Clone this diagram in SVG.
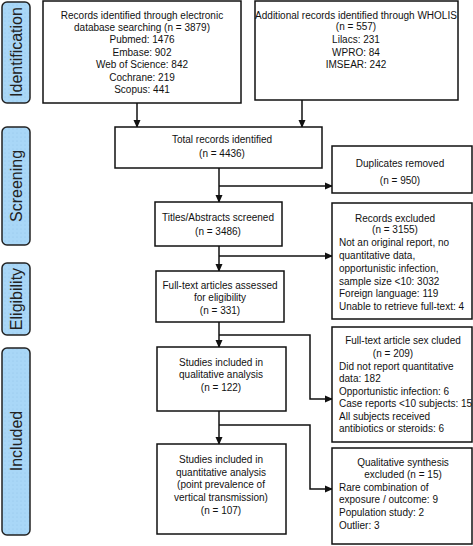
<svg xmlns="http://www.w3.org/2000/svg" width="473" height="546" viewBox="0 0 473 546">
<defs>
<marker id="ah" markerWidth="8" markerHeight="8" refX="7" refY="4" orient="auto" markerUnits="userSpaceOnUse">
<path d="M0,0.5 L8,4 L0,7.5 Z" fill="#111"/>
</marker>
<pattern id="dots" width="4" height="4" patternUnits="userSpaceOnUse">
<rect width="4" height="4" fill="#a9d7f7"/>
<circle cx="1" cy="1" r="0.5" fill="#8fc0e6"/>
</pattern>
</defs>
<style>
.box{fill:#fff;stroke:#111;stroke-width:1.5}
.side{fill:url(#dots);stroke:#222;stroke-width:1.5}
.t{font-family:"Liberation Sans",Arial,sans-serif;font-size:10px;fill:#111}
.c{text-anchor:middle}
.s{font-family:"Liberation Sans",Arial,sans-serif;font-size:16px;fill:#222;text-anchor:middle}
.ln{fill:none;stroke:#111;stroke-width:1.5}
</style>
<rect width="473" height="546" fill="#fff"/>

<g id="phases">
<g id="phase-identification"><rect class="side" x="2" y="2" width="28" height="101" rx="5"/><text class="s" transform="translate(22,52) rotate(-90)">Identification</text></g>
<g id="phase-screening"><rect class="side" x="2" y="127" width="28" height="118" rx="5"/><text class="s" transform="translate(22,186) rotate(-90)">Screening</text></g>
<g id="phase-eligibility"><rect class="side" x="2" y="263" width="28" height="72" rx="5"/><text class="s" transform="translate(22,299) rotate(-90)">Eligibility</text></g>
<g id="phase-included"><rect class="side" x="2" y="348" width="28" height="187" rx="5"/><text class="s" transform="translate(22,441) rotate(-90)">Included</text></g>
</g>

<g id="connectors">
<line class="ln" x1="137" y1="103" x2="137" y2="127" marker-end="url(#ah)"/>
<line class="ln" x1="302" y1="100" x2="302" y2="127" marker-end="url(#ah)"/>
<line class="ln" x1="219" y1="168" x2="219" y2="202" marker-end="url(#ah)"/>
<line class="ln" x1="219" y1="186" x2="332" y2="186" marker-end="url(#ah)"/>
<line class="ln" x1="219" y1="246" x2="219" y2="271" marker-end="url(#ah)"/>
<line class="ln" x1="219" y1="256" x2="332" y2="256" marker-end="url(#ah)"/>
<line class="ln" x1="219" y1="322" x2="219" y2="347" marker-end="url(#ah)"/>
<polyline class="ln" points="219,335 310,335 310,399 332,399" marker-end="url(#ah)"/>
<line class="ln" x1="219" y1="411" x2="219" y2="444" marker-end="url(#ah)"/>
<polyline class="ln" points="219,425 310,425 310,489 332,489" marker-end="url(#ah)"/>
</g>

<g id="n-electronic">
<rect class="box" x="43" y="1" width="198" height="102"/>
<text class="t c" x="142" y="19">Records identified through electronic</text>
<text class="t c" x="142" y="31">database searching (n = 3879)</text>
<text class="t c" x="142" y="43">Pubmed: 1476</text>
<text class="t c" x="142" y="56">Embase: 902</text>
<text class="t c" x="142" y="68">Web of Science: 842</text>
<text class="t c" x="142" y="81">Cochrane: 219</text>
<text class="t c" x="142" y="93">Scopus: 441</text>
</g>

<g id="n-wholis">
<rect class="box" x="255" y="1" width="203" height="99"/>
<text class="t c" x="356" y="19">Additional records identified through WHOLIS</text>
<text class="t c" x="356" y="30">(n = 557)</text>
<text class="t c" x="356" y="43">Lilacs: 231</text>
<text class="t c" x="356" y="56">WPRO: 84</text>
<text class="t c" x="356" y="68">IMSEAR: 242</text>
</g>

<g id="n-total">
<rect class="box" x="115" y="127" width="207" height="41"/>
<text class="t c" x="222" y="143">Total records identified</text>
<text class="t c" x="222" y="157">(n = 4436)</text>
</g>

<g id="n-duplicates">
<rect class="box" x="332" y="146" width="140" height="47"/>
<text class="t c" x="400" y="167">Duplicates removed</text>
<text class="t c" x="400" y="184">(n = 950)</text>
</g>

<g id="n-titles">
<rect class="box" x="155" y="202" width="127" height="44"/>
<text class="t c" x="218" y="221">Titles/Abstracts screened</text>
<text class="t c" x="218" y="235">(n = 3486)</text>
</g>

<g id="n-records-excluded">
<rect class="box" x="332" y="203" width="140" height="116"/>
<text class="t c" x="395" y="222">Records excluded</text>
<text class="t c" x="395" y="233">(n = 3155)</text>
<text class="t" x="339" y="246">Not an original report, no</text>
<text class="t" x="339" y="259">quantitative data,</text>
<text class="t" x="339" y="272">opportunistic infection,</text>
<text class="t" x="339" y="285">sample size &lt;10: 3032</text>
<text class="t" x="339" y="297">Foreign language: 119</text>
<text class="t" x="339" y="310">Unable to retrieve full-text: 4</text>
</g>

<g id="n-fulltext">
<rect class="box" x="156" y="271" width="128" height="51"/>
<text class="t c" x="220" y="289">Full-text articles assessed</text>
<text class="t c" x="220" y="301">for eligibility</text>
<text class="t c" x="220" y="314">(n = 331)</text>
</g>

<g id="n-fulltext-excluded">
<rect class="box" x="332" y="327" width="140" height="115"/>
<text class="t c" x="403" y="344">Full-text article sex cluded</text>
<text class="t c" x="393" y="357">(n = 209)</text>
<text class="t" x="339" y="370">Did not report quantitative</text>
<text class="t" x="339" y="382">data: 182</text>
<text class="t" x="339" y="395">Opportunistic infection: 6</text>
<text class="t" x="339" y="407">Case reports &lt;10 subjects: 15</text>
<text class="t" x="339" y="420">All subjects received</text>
<text class="t" x="339" y="432">antibiotics or steroids: 6</text>
</g>

<g id="n-qualitative">
<rect class="box" x="157" y="347" width="129" height="64"/>
<text class="t c" x="221" y="366">Studies included in</text>
<text class="t c" x="221" y="378">qualitative analysis</text>
<text class="t c" x="221" y="391">(n = 122)</text>
</g>

<g id="n-quantitative">
<rect class="box" x="157" y="444" width="129" height="90"/>
<text class="t c" x="221" y="463">Studies included in</text>
<text class="t c" x="221" y="476">quantitative analysis</text>
<text class="t c" x="221" y="488">(point prevalence of</text>
<text class="t c" x="221" y="501">vertical transmission)</text>
<text class="t c" x="221" y="514">(n = 107)</text>
</g>

<g id="n-qual-excluded">
<rect class="box" x="332" y="448" width="140" height="96"/>
<text class="t c" x="403" y="466">Qualitative synthesis</text>
<text class="t c" x="403" y="478">excluded (n = 15)</text>
<text class="t" x="339" y="491">Rare combination of</text>
<text class="t" x="339" y="503">exposure / outcome: 9</text>
<text class="t" x="339" y="516">Population study: 2</text>
<text class="t" x="339" y="529">Outlier: 3</text>
</g>
</svg>
